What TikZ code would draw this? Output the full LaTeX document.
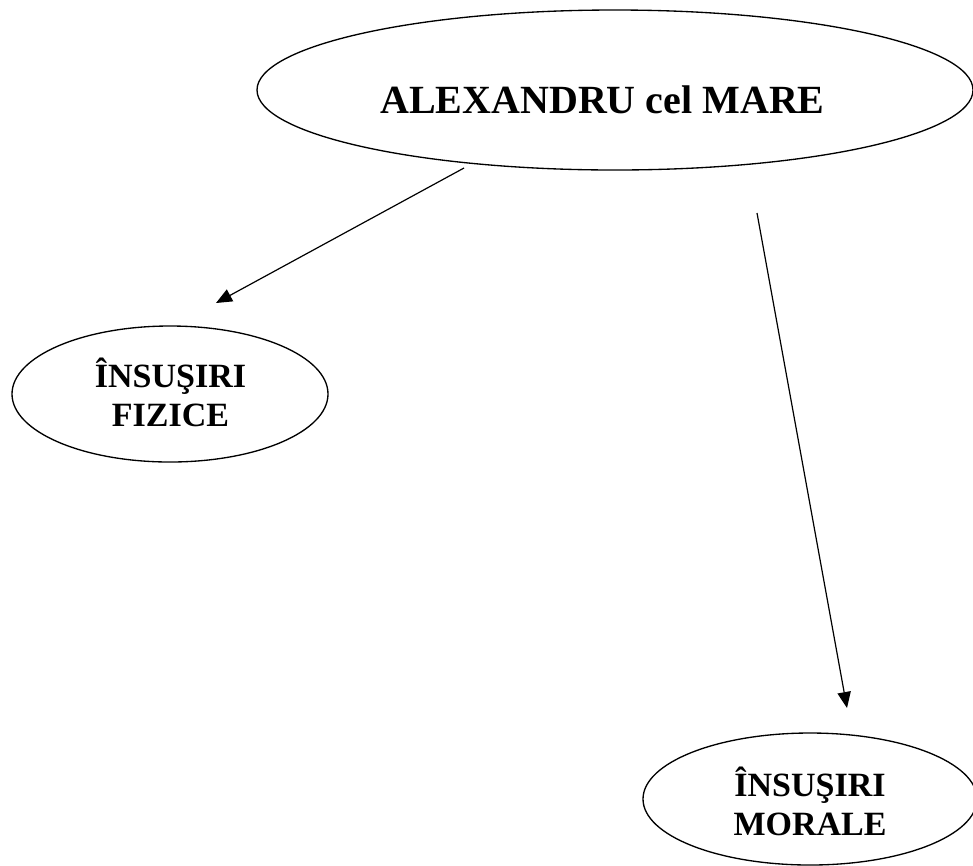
\documentclass[tikz,border=0pt]{standalone}
\usepackage{fontspec}
\setmainfont{Liberation Serif}
\usetikzlibrary{shapes.geometric,arrows.meta}
\begin{document}
\begin{tikzpicture}[x=0.75pt,y=-0.75pt,
  oval/.style={draw=black, line width=1pt, ellipse, inner sep=0pt},
  bigtext/.style={font=\fontsize{30}{34}\selectfont\bfseries, inner sep=0pt, anchor=base},
  smalltext/.style={font=\fontsize{25.5}{29.25}\selectfont\bfseries, inner sep=0pt, anchor=base, align=center},
  link/.style={line width=0.9pt, -{Triangle[length=12pt,width=10pt]}}]
\useasboundingbox (0,0) rectangle (973,865);
\clip (0,0) rectangle (973,865);
% ellipses
\node[oval, minimum width=537pt, minimum height=120pt] (top) at (615,90) {};
\node[oval, minimum width=237pt, minimum height=102pt] (fiz) at (170,394) {};
\node[oval, minimum width=250.5pt, minimum height=99pt] (mor) at (810,799) {};
% texts
\node[bigtext] (toplabel) at (602.5,113) {ALEXANDRU cel MARE};
\node[smalltext] (fizlabel) at (170.5,426) {ÎNSUŞIRI\\FIZICE};
\node[smalltext] (morlabel) at (810,835) {ÎNSUŞIRI\\MORALE};
% connectors
\coordinate (a1s) at (464,168);
\coordinate (a1e) at (216,303);
\coordinate (a2s) at (757,213);
\coordinate (a2e) at (847,708);
\draw[link] (a1s) -- (a1e);
\draw[link] (a2s) -- (a2e);
\end{tikzpicture}
\end{document}
